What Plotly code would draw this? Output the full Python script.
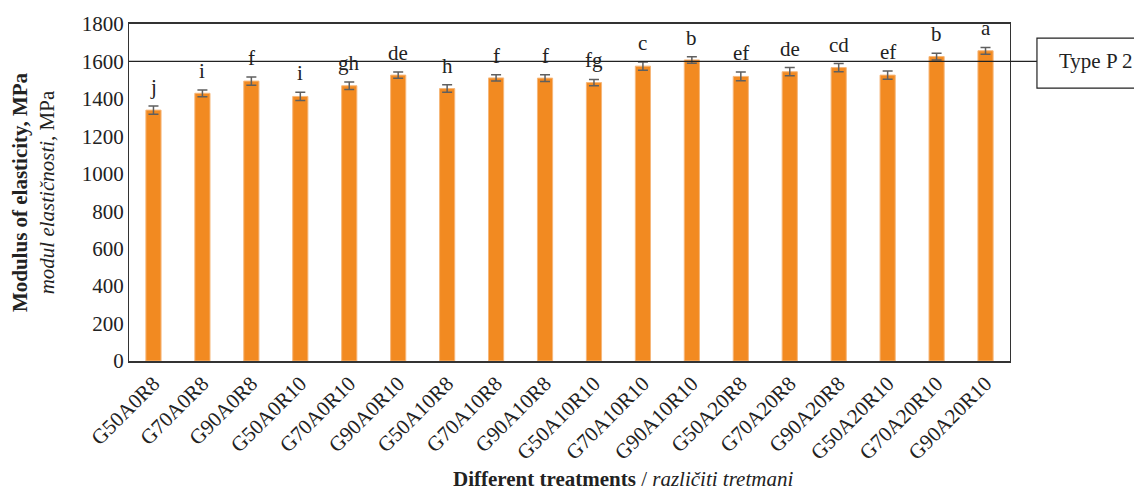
import plotly.graph_objects as go

treatments = ["G50A0R8", "G70A0R8", "G90A0R8", "G50A0R10", "G70A0R10", "G90A0R10",
              "G50A10R8", "G70A10R8", "G90A10R8", "G50A10R10", "G70A10R10", "G90A10R10",
              "G50A20R8", "G70A20R8", "G90A20R8", "G50A20R10", "G70A20R10", "G90A20R10"]
moe = [1340, 1430, 1495, 1413, 1470, 1527, 1455, 1512, 1511, 1487, 1575, 1608,
       1520, 1545, 1567, 1527, 1626, 1657]
err = [22, 18, 22, 22, 20, 17, 20, 17, 18, 17, 22, 17, 23, 22, 22, 22, 18, 18]
letters = ["j", "i", "f", "i", "gh", "de", "h", "f", "f", "fg", "c", "b",
           "ef", "de", "cd", "ef", "b", "a"]
reference_value = 1600
reference_label = "Type P 2"
y_ticks = [0, 200, 400, 600, 800, 1000, 1200, 1400, 1600, 1800]

FONT = "Liberation Serif"
TXT = "#222"

fig = go.Figure()
fig.add_trace(go.Bar(
    x=treatments, y=moe,
    marker=dict(color="#F28A21", line=dict(color="#F6B77A", width=1)),
    width=0.31,
    error_y=dict(type="data", array=err, color="#5f5f5f", thickness=1.5, width=5),
    showlegend=False,
))

for t, v, e, l in zip(treatments, moe, err, letters):
    fig.add_annotation(x=t, y=v + e, text=l, showarrow=False, yanchor="bottom",
                       yshift=5, font=dict(family=FONT, size=21, color=TXT))

# reference line at Type P2 level
fig.add_shape(type="line", xref="paper", yref="y", x0=0, x1=1.0306,
              y0=reference_value, y1=reference_value,
              line=dict(color=TXT, width=1.2))
fig.add_shape(type="rect", xref="paper", yref="paper", x0=1.0306, x1=1.16,
              y0=0.810, y1=0.958, line=dict(color=TXT, width=1.2),
              fillcolor="white")
fig.add_annotation(xref="paper", yref="y", x=1.0306, y=reference_value,
                   xanchor="left", yanchor="middle", xshift=20, text=reference_label,
                   showarrow=False, font=dict(family=FONT, size=21, color=TXT))

# x axis title
fig.add_annotation(xref="paper", yref="paper", x=0.5607, y=-0.350,
                   xanchor="center", yanchor="middle", showarrow=False,
                   text="<b>Different treatments</b> / <i>različiti tretmani</i>",
                   font=dict(family=FONT, size=21, color=TXT))

fig.update_layout(
    width=1134, height=482,
    margin=dict(l=121, r=132, t=16, b=129),
    plot_bgcolor="white", paper_bgcolor="white",
    font=dict(family=FONT, size=21, color=TXT),
    bargap=0.69,
    xaxis=dict(tickangle=-45, showline=True, linecolor="#333", linewidth=2,
               mirror=True, ticks="", tickfont=dict(size=21), automargin=False),
    yaxis=dict(range=[0, 1800], tickvals=y_ticks, showgrid=False,
               showline=True, linecolor="#333", linewidth=1.3, mirror=True,
               ticks="", tickfont=dict(size=21), zeroline=False, automargin=False,
               title=dict(text="<b>Modulus of elasticity, MPa</b><br><i>modul elastičnosti,</i> MPa",
                          font=dict(size=21), standoff=32)),
)

fig.write_html("out.html")
